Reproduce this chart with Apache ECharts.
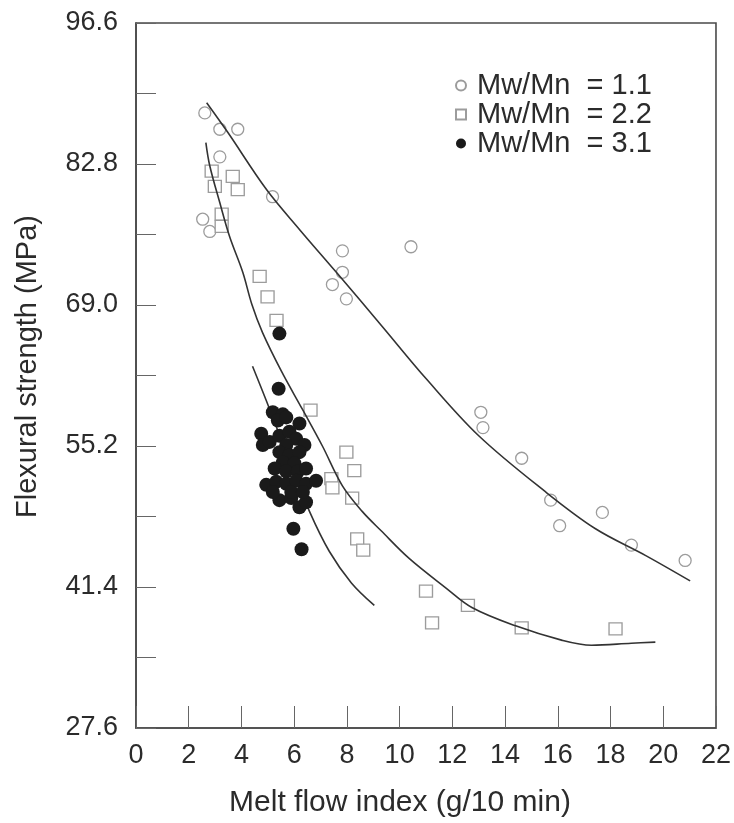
<!DOCTYPE html>
<html>
<head>
<meta charset="utf-8">
<script src="https://cdn.jsdelivr.net/npm/echarts@6/dist/echarts.min.js"></script>
<style>
  html, body { margin: 0; padding: 0; background: #fff; }
  #chart { width: 734px; height: 823px; }
</style>
</head>
<body>
<div id="chart"></div>
<script>
// Tick labels shown on the axes (other ticks are unlabelled)
const yTickLabels = ['27.6', '41.4', '55.2', '69.0', '82.8', '96.6'];
const xTickLabels = ['0', '2', '4', '6', '8', '10', '12', '14', '16', '18', '20', '22'];

// Legend / series names
const seriesNames = ['Mw/Mn  = 1.1', 'Mw/Mn  = 2.2', 'Mw/Mn  = 3.1'];

// Measured points: [melt flow index (g/10 min), flexural strength (MPa)]
const pointsMw11 = [
  [2.61, 87.8], [3.18, 86.2], [3.86, 86.2], [3.18, 83.5], [2.53, 77.4],
  [2.80, 76.2], [5.18, 79.6], [7.83, 74.3], [7.83, 72.2], [7.45, 71.0],
  [7.98, 69.6], [10.43, 74.7], [13.08, 58.5], [13.16, 57.0], [14.63, 54.0],
  [15.73, 49.9], [16.07, 47.4], [17.69, 48.7], [18.79, 45.5], [20.83, 44.0]
];

const pointsMw22 = [
  [2.87, 82.1], [2.99, 80.6], [3.67, 81.6], [3.86, 80.3], [3.25, 77.9],
  [3.25, 76.7], [4.69, 71.8], [4.99, 69.8], [5.33, 67.5], [6.62, 58.7],
  [7.98, 54.6], [8.28, 52.8], [7.41, 52.0], [7.45, 51.1], [8.20, 50.1],
  [8.39, 46.1], [8.62, 45.0], [11.00, 41.0], [11.23, 37.9], [12.59, 39.6],
  [14.63, 37.4], [18.19, 37.3]
];

const pointsMw31 = [
  [5.44, 66.2], [5.41, 60.8], [5.97, 47.1], [6.28, 45.1],
  [5.19, 58.5], [5.57, 58.3], [5.38, 57.7], [5.70, 58.0], [6.20, 57.4],
  [4.75, 56.4], [4.81, 55.3], [5.07, 55.6], [5.44, 56.2], [5.82, 56.6],
  [6.08, 55.9], [6.39, 55.3], [5.70, 55.3], [5.44, 54.6], [5.82, 54.3],
  [6.20, 54.6], [5.57, 53.6], [6.01, 53.5], [5.26, 53.0], [5.70, 52.7],
  [6.14, 52.7], [6.45, 53.0], [4.94, 51.4], [5.32, 51.7], [5.70, 51.5],
  [6.08, 51.8], [6.45, 51.5], [6.83, 51.8], [5.44, 49.9], [5.89, 50.1],
  [6.20, 49.2], [6.45, 49.7], [5.19, 50.7], [5.89, 50.7], [6.33, 50.7]
];

// Fitted trend curves for each distribution width
const curveMw11 = [
  [2.68, 88.8], [3.48, 85.9], [4.95, 80.3], [6.20, 76.4], [7.60, 72.2],
  [9.34, 66.9], [11.0, 61.8], [13.0, 56.2], [15.54, 50.7], [17.43, 47.1],
  [19.32, 44.5], [21.02, 42.0]
];

const curveMw22 = [
  [2.65, 84.9], [2.80, 82.6], [3.18, 79.0], [3.55, 75.7], [4.05, 72.2],
  [4.39, 69.1], [4.80, 66.3], [5.52, 62.5], [6.31, 58.8], [7.07, 55.2],
  [7.83, 51.3], [8.58, 48.8], [9.30, 46.9], [10.36, 44.2], [11.76, 41.3],
  [12.74, 39.4], [14.40, 37.6], [16.14, 36.2], [17.28, 35.7], [18.79, 35.9],
  [19.70, 36.0]
];

const curveMw31 = [
  [4.42, 63.0], [5.07, 58.8], [5.82, 53.7], [6.58, 48.8], [7.33, 44.9],
  [8.17, 41.8], [9.04, 39.6]
];

const FONT = "'Liberation Sans', Arial, Helvetica, sans-serif";
const INK = '#2b2b2b';
const HOLLOW = '#9c9c9c';

const chart = echarts.init(document.getElementById('chart'), null, { renderer: 'canvas' });

function curveSeries(name, data) {
  return {
    name: name,
    type: 'line',
    data: data,
    smooth: 0.35,
    showSymbol: false,
    symbol: 'none',
    silent: true,
    z: 3,
    lineStyle: { color: '#333', width: 1.6 }
  };
}

chart.setOption({
  backgroundColor: '#fff',
  animation: false,
  grid: {
    left: 136, right: 16, top: 23, bottom: 93,
    show: true, borderColor: '#4a4a4a', borderWidth: 1.6, backgroundColor: 'transparent'
  },
  legend: {
    data: seriesNames,
    orient: 'vertical',
    left: 450,
    top: 66,
    itemWidth: 10,
    itemHeight: 10,
    itemGap: 0,
    selectedMode: false,
    formatter: function (name) { return '{t|' + name + '}'; },
    textStyle: {
      fontFamily: FONT, fontSize: 29, color: INK,
      rich: { t: { fontFamily: FONT, fontSize: 29, color: INK, lineHeight: 30, padding: [0, 0, 0, 6] } }
    }
  },
  xAxis: {
    type: 'value',
    min: 0, max: 22, interval: 2,
    name: 'Melt flow index (g/10 min)',
    nameLocation: 'middle',
    nameGap: 60,
    nameTextStyle: { fontFamily: FONT, fontSize: 30, color: INK, padding: [0, 52, 0, 0] },
    axisLine: { show: true, lineStyle: { color: '#4a4a4a', width: 1.6 } },
    axisTick: { show: true, inside: true, length: 22, lineStyle: { color: '#666', width: 1 } },
    axisLabel: {
      margin: 14, fontFamily: FONT, fontSize: 27, color: INK,
      formatter: function (v) {
        const s = String(Math.round(v));
        return xTickLabels.indexOf(s) >= 0 ? s : '';
      }
    },
    splitLine: { show: false }
  },
  yAxis: {
    type: 'value',
    min: 27.6, max: 96.6, interval: 6.9,
    name: 'Flexural strength (MPa)',
    nameLocation: 'middle',
    nameGap: 94,
    nameTextStyle: { fontFamily: FONT, fontSize: 29, color: INK, padding: [0, 0, 0, 18] },
    axisLine: { show: true, lineStyle: { color: '#4a4a4a', width: 1.6 } },
    axisTick: { show: true, inside: true, length: 20, lineStyle: { color: '#666', width: 1 } },
    axisLabel: {
      margin: 18, fontFamily: FONT, fontSize: 27, color: INK,
      formatter: function (v) {
        const s = (Math.round(v * 10) / 10).toFixed(1);
        return yTickLabels.indexOf(s) >= 0 ? s : '';
      }
    },
    splitLine: { show: false }
  },
  series: [
    {
      name: seriesNames[0],
      type: 'scatter',
      data: pointsMw11,
      symbol: 'circle',
      symbolSize: 12,
      z: 2,
      itemStyle: { color: '#fff', borderColor: HOLLOW, borderWidth: 1.3, opacity: 1 }
    },
    {
      name: seriesNames[1],
      type: 'scatter',
      data: pointsMw22,
      symbol: 'rect',
      symbolSize: [13, 12],
      z: 2,
      itemStyle: { color: '#fff', borderColor: HOLLOW, borderWidth: 1.3, opacity: 1 }
    },
    curveSeries('fit-1.1', curveMw11),
    curveSeries('fit-2.2', curveMw22),
    curveSeries('fit-3.1', curveMw31),
    {
      name: seriesNames[2],
      type: 'scatter',
      data: pointsMw31,
      symbol: 'circle',
      symbolSize: 14,
      z: 4,
      itemStyle: { color: '#1a1a1a', opacity: 1 }
    }
  ]
});
</script>
</body>
</html>
